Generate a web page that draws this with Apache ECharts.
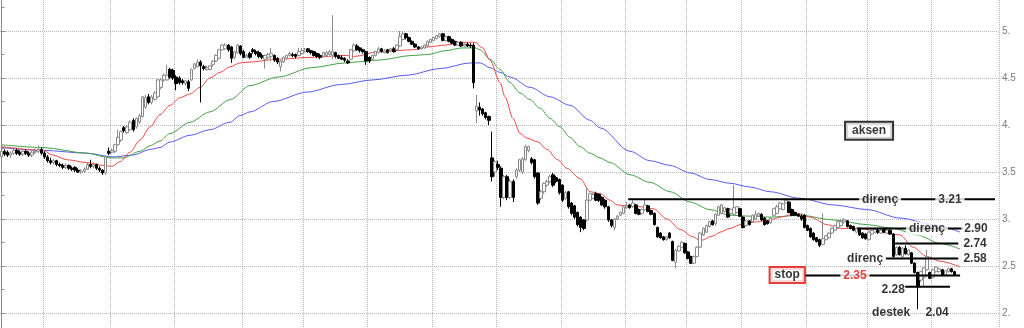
<!DOCTYPE html>
<html><head><meta charset="utf-8">
<script src="https://cdn.jsdelivr.net/npm/echarts@6/dist/echarts.min.js"></script>
<style>html,body{margin:0;padding:0;background:#fff}#c{width:1024px;height:328px}</style>
</head><body><div id="c"></div>
<script>
// [open, close, low, high]
const candles = [
[3.66,3.72,3.63,3.74],[3.72,3.69,3.67,3.74],[3.71,3.68,3.66,3.73],[3.68,3.70,3.65,3.72],[3.70,3.73,3.68,3.75],
[3.73,3.70,3.68,3.75],[3.71,3.69,3.67,3.73],[3.69,3.72,3.67,3.74],[3.72,3.70,3.68,3.74],[3.70,3.68,3.66,3.72],
[3.68,3.71,3.66,3.73],[3.71,3.72,3.69,3.75],[3.72,3.74,3.70,3.78],[3.74,3.70,3.68,3.76],[3.70,3.66,3.64,3.72],
[3.66,3.62,3.60,3.68],[3.62,3.60,3.58,3.65],[3.60,3.62,3.58,3.64],[3.62,3.58,3.56,3.63],[3.58,3.57,3.55,3.60],
[3.57,3.55,3.53,3.59],[3.55,3.57,3.53,3.59],[3.57,3.54,3.52,3.58],[3.54,3.53,3.51,3.56],[3.55,3.52,3.50,3.56],
[3.52,3.50,3.49,3.54],[3.50,3.51,3.48,3.53],[3.51,3.53,3.49,3.55],[3.53,3.58,3.52,3.60],[3.58,3.56,3.54,3.63],
[3.56,3.58,3.54,3.60],[3.58,3.54,3.52,3.59],[3.54,3.52,3.50,3.56],[3.52,3.49,3.47,3.53],[3.49,3.66,3.47,3.67],
[3.72,3.70,3.68,3.76],[3.71,3.73,3.70,3.75],[3.72,3.79,3.70,3.80],[3.79,3.87,3.78,3.95],[3.84,3.93,3.82,3.94],
[3.97,3.94,3.92,3.99],[3.92,3.98,3.90,4.00],[3.95,4.03,3.94,4.05],[4.05,3.95,3.93,4.07],[3.98,4.07,3.96,4.08],
[4.03,4.10,4.01,4.12],[4.09,4.30,4.08,4.31],[4.19,4.29,4.17,4.32],[4.30,4.24,4.22,4.33],[4.24,4.30,4.22,4.32],
[4.27,4.34,4.26,4.36],[4.30,4.48,4.29,4.49],[4.40,4.48,4.38,4.50],[4.48,4.53,4.46,4.55],[4.48,4.53,4.47,4.64],
[4.59,4.51,4.49,4.61],[4.58,4.50,4.48,4.60],[4.51,4.44,4.37,4.53],[4.50,4.45,4.43,4.52],[4.47,4.45,4.43,4.49],
[4.44,4.47,4.42,4.48],[4.46,4.39,4.36,4.48],[4.48,4.59,4.47,4.60],[4.60,4.65,4.59,4.66],[4.62,4.67,4.61,4.70],
[4.67,4.63,4.24,4.69],[4.62,4.60,4.58,4.64],[4.59,4.61,4.58,4.63],[4.59,4.63,4.58,4.64],[4.64,4.68,4.62,4.69],
[4.68,4.74,4.67,4.75],[4.71,4.80,4.70,4.81],[4.80,4.85,4.79,4.86],[4.81,4.85,4.80,4.87],[4.85,4.80,4.78,4.86],
[4.83,4.71,4.66,4.84],[4.72,4.78,4.70,4.79],[4.77,4.85,4.76,4.86],[4.84,4.76,4.74,4.85],[4.78,4.72,4.71,4.80],
[4.72,4.74,4.71,4.76],[4.76,4.72,4.70,4.78],[4.80,4.78,4.76,4.82],[4.78,4.76,4.74,4.80],[4.77,4.73,4.71,4.79],
[4.74,4.72,4.70,4.76],[4.70,4.74,4.60,4.75],[4.72,4.75,4.70,4.77],[4.73,4.76,4.68,4.82],[4.74,4.69,4.67,4.75],
[4.71,4.67,4.65,4.72],[4.62,4.68,4.57,4.69],[4.67,4.72,4.66,4.73],[4.71,4.74,4.70,4.75],[4.74,4.76,4.73,4.78],
[4.75,4.74,4.72,4.77],[4.75,4.73,4.71,4.76],[4.74,4.78,4.73,4.82],[4.76,4.79,4.75,4.82],[4.78,4.80,4.77,4.82],
[4.81,4.78,4.77,4.82],[4.79,4.77,4.75,4.80],[4.78,4.74,4.73,4.79],[4.76,4.73,4.71,4.77],[4.74,4.72,4.70,4.76],
[4.73,4.77,4.72,4.78],[4.74,4.77,4.73,4.79],[4.75,4.78,4.74,4.80],[4.74,4.78,4.70,5.17],[4.77,4.73,4.71,4.78],
[4.74,4.71,4.70,4.75],[4.72,4.70,4.69,4.74],[4.71,4.69,4.67,4.72],[4.68,4.66,4.65,4.70],[4.70,4.80,4.69,4.81],
[4.79,4.85,4.78,4.87],[4.84,4.80,4.79,4.86],[4.82,4.79,4.77,4.83],[4.80,4.78,4.76,4.81],[4.78,4.68,4.64,4.79],
[4.72,4.68,4.66,4.73],[4.70,4.74,4.69,4.75],[4.74,4.78,4.73,4.79],[4.77,4.81,4.76,4.83],[4.81,4.78,4.77,4.82],
[4.77,4.79,4.76,4.81],[4.80,4.77,4.76,4.81],[4.79,4.81,4.78,4.82],[4.81,4.78,4.77,4.83],[4.80,4.85,4.79,4.86],
[4.84,4.94,4.83,5.00],[4.91,4.97,4.90,5.00],[4.97,4.93,4.91,4.98],[4.93,4.89,4.88,4.94],[4.89,4.86,4.85,4.90],
[4.86,4.83,4.82,4.87],[4.83,4.81,4.80,4.84],[4.81,4.83,4.80,4.84],[4.82,4.85,4.81,4.86],[4.84,4.89,4.83,4.90],
[4.88,4.91,4.87,4.92],[4.90,4.93,4.89,4.94],[4.92,4.95,4.91,4.96],[4.94,4.97,4.93,4.98],[4.97,4.90,4.89,4.98],
[4.90,4.94,4.89,4.95],[4.94,4.89,4.88,4.95],[4.91,4.87,4.86,4.92],[4.89,4.85,4.84,4.90],[4.85,4.88,4.84,4.89],
[4.88,4.84,4.83,4.89],[4.84,4.86,4.83,4.87],[4.86,4.84,4.83,4.88],[4.85,4.84,4.82,4.87],[4.85,4.45,4.39,4.87],
[4.15,4.20,4.02,4.32],[4.19,4.16,4.10,4.24],[4.17,4.12,4.10,4.18],[4.13,4.08,4.06,4.14],[4.09,4.05,4.00,4.10],
[3.65,3.45,3.40,3.93],[3.50,3.61,3.45,3.63],[3.58,3.55,3.52,3.62],[3.54,3.23,3.13,3.56],[3.23,3.45,3.21,3.47],
[3.45,3.23,3.20,3.47],[3.23,3.40,3.21,3.43],[3.40,3.23,3.18,3.42],[3.45,3.52,3.43,3.54],[3.52,3.63,3.50,3.64],
[3.50,3.64,3.48,3.66],[3.63,3.77,3.62,3.79],[3.73,3.77,3.71,3.78],[3.64,3.60,3.58,3.66],[3.63,3.45,3.43,3.64],
[3.49,3.17,3.15,3.50],[3.22,3.29,3.20,3.31],[3.29,3.38,3.27,3.39],[3.36,3.40,3.34,3.42],[3.40,3.45,3.38,3.47],
[3.47,3.36,3.34,3.49],[3.44,3.40,3.38,3.46],[3.42,3.28,3.26,3.43],[3.36,3.20,3.18,3.37],[3.22,3.28,3.20,3.30],
[3.29,3.13,3.11,3.30],[3.17,3.06,3.04,3.18],[3.14,3.02,3.00,3.15],[3.07,2.94,2.92,3.08],[3.02,2.91,2.86,3.03],
[2.99,2.90,2.88,3.00],[2.99,3.20,2.97,3.34],[3.20,3.27,3.19,3.28],[3.22,3.26,3.21,3.28],[3.27,3.20,3.19,3.29],
[3.26,3.20,3.18,3.27],[3.23,3.15,3.14,3.24],[3.20,3.13,3.11,3.21],[3.13,2.99,2.97,3.14],[2.99,2.93,2.91,3.00],
[2.91,3.00,2.88,3.01],[3.00,3.03,2.99,3.04],[3.04,3.07,3.03,3.08],[3.06,3.13,3.05,3.14],[3.12,3.14,3.11,3.18],
[3.15,3.12,3.11,3.16],[3.13,3.17,3.12,3.20],[3.15,3.06,3.05,3.16],[3.10,3.05,3.04,3.11],[3.06,3.10,3.05,3.11],
[3.10,3.15,3.09,3.21],[3.14,3.08,3.07,3.15],[3.09,3.05,3.04,3.10],[3.06,2.94,2.93,3.07],[2.91,2.81,2.80,2.92],
[2.85,2.80,2.79,2.86],[2.81,2.78,2.77,2.82],[2.78,2.81,2.77,2.82],[2.85,2.80,2.79,2.86],[2.76,2.56,2.55,2.77],
[2.54,2.67,2.48,2.68],[2.66,2.71,2.65,2.72],[2.70,2.75,2.69,2.77],[2.74,2.64,2.63,2.75],[2.65,2.58,2.57,2.66],
[2.60,2.53,2.52,2.61],[2.53,2.60,2.52,2.61],[2.60,2.70,2.59,2.71],[2.70,2.85,2.69,2.86],[2.83,2.90,2.82,2.91],
[2.86,2.93,2.85,2.94],[2.92,2.97,2.91,2.98],[2.98,2.94,2.93,2.99],[2.95,3.05,2.93,3.06],[3.04,3.13,3.03,3.14],
[3.06,3.15,3.05,3.16],[3.08,3.12,3.07,3.13],[3.11,3.02,3.01,3.12],[3.06,3.10,3.05,3.11],[3.05,3.12,3.04,3.36],
[3.07,3.13,3.06,3.14],[3.11,3.03,3.02,3.12],[3.02,2.91,2.90,3.03],[2.93,2.98,2.92,2.99],[2.98,2.94,2.93,2.99],
[2.97,3.04,2.96,3.05],[3.00,3.05,2.99,3.09],[3.03,3.06,3.02,3.07],[3.05,2.99,2.98,3.06],[3.01,2.94,2.93,3.02],
[2.98,2.95,2.94,2.99],[2.96,3.01,2.95,3.02],[3.04,3.11,3.03,3.12],[3.06,3.13,3.05,3.15],[3.11,3.17,3.10,3.18],
[3.10,3.16,3.09,3.17],[3.17,3.20,3.16,3.22],[3.18,3.07,3.06,3.19],[3.10,3.04,3.03,3.11],[3.07,3.04,3.03,3.08],
[3.05,3.03,3.02,3.06],[3.03,3.00,2.98,3.05],[3.04,2.91,2.90,3.05],[2.93,2.88,2.87,2.94],[2.90,2.81,2.80,2.91],
[2.85,2.78,2.77,2.86],[2.80,2.76,2.75,2.81],[2.78,2.72,2.70,2.79],[2.73,2.79,2.72,3.06],[2.78,2.82,2.77,2.83],
[2.80,2.85,2.79,2.86],[2.85,2.90,2.84,2.91],[2.88,2.93,2.87,2.94],[2.91,2.97,2.90,2.98],[2.93,2.97,2.92,3.00],
[2.97,2.99,2.95,3.01],[2.98,2.92,2.91,2.99],[2.93,2.90,2.89,2.94],[2.92,2.88,2.87,2.93],[2.86,2.90,2.85,2.91],
[2.90,2.83,2.82,2.91],[2.85,2.80,2.79,2.86],[2.84,2.79,2.78,2.85],[2.78,2.86,2.77,2.87],[2.84,2.88,2.83,2.89],
[2.86,2.89,2.85,2.90],[2.88,2.86,2.84,2.90],[2.85,2.88,2.84,2.89],[2.89,2.86,2.85,2.90],[2.85,2.88,2.84,2.89],
[2.88,2.84,2.83,2.89],[2.84,2.60,2.59,2.85],[2.62,2.70,2.61,2.71],[2.70,2.62,2.61,2.71],[2.60,2.69,2.59,2.70],
[2.69,2.63,2.62,2.72],[2.62,2.67,2.61,2.68],[2.64,2.53,2.52,2.65],[2.53,2.43,2.42,2.54],[2.43,2.28,2.04,2.44],
[2.35,2.44,2.33,2.45],[2.38,2.48,2.28,2.49],[2.46,2.60,2.45,2.67],[2.43,2.37,2.36,2.44],[2.38,2.46,2.37,2.47],
[2.44,2.49,2.43,2.50],[2.44,2.47,2.43,2.48],[2.46,2.40,2.39,2.47],[2.40,2.45,2.39,2.46],[2.44,2.47,2.43,2.48],
[2.47,2.44,2.43,2.48],[2.44,2.41,2.40,2.45]
];
const slotCount = 326;
const maRed = [[0,3.77],[13.5,3.73],[16.8,3.68],[21.4,3.63],[27.9,3.60],[33.1,3.57],[36,3.56],[38.7,3.61],[41.9,3.71],[45.2,3.84],[48.5,3.98],[51.7,4.11],[55,4.21],[58.2,4.29],[61.5,4.33],[64.8,4.40],[68,4.50],[71.3,4.56],[74.6,4.62],[77.8,4.66],[81.1,4.67],[90.2,4.70],[101.3,4.72],[112.1,4.74],[115.4,4.73],[122.9,4.78],[134,4.80],[139.2,4.83],[144.7,4.85],[150.3,4.88],[154.5,4.88],[157,4.82],[159.4,4.69],[162.7,4.45],[164.3,4.30],[166.9,4.07],[169.2,3.91],[171.5,3.86],[175,3.82],[178,3.74],[181.5,3.63],[184.5,3.54],[188.8,3.43],[192.1,3.29],[195.3,3.27],[198.6,3.20],[200.9,3.15],[204.1,3.14],[208.4,3.13],[212.6,3.11],[217.2,3.00],[221.4,2.89],[225.7,2.81],[228,2.77],[232.2,2.82],[234.5,2.86],[237.7,2.90],[242,2.95],[246.6,2.97],[250.8,2.99],[254.1,3.02],[259.6,3.06],[263.9,3.02],[269.4,2.94],[273.6,2.90],[280.2,2.90],[286.7,2.86],[293.2,2.83],[297.5,2.70],[302,2.60],[306.3,2.55],[312.8,2.49]];
const maGreen = [[0,3.79],[13.5,3.76],[27.9,3.70],[35.4,3.65],[39.6,3.65],[45.2,3.72],[48.5,3.78],[51.7,3.83],[55,3.91],[61.5,4.03],[68,4.14],[74.6,4.27],[81.1,4.42],[90.2,4.51],[101.3,4.61],[112.1,4.66],[115.4,4.67],[122.9,4.69],[134,4.74],[139.2,4.75],[144.7,4.79],[150.3,4.82],[154.5,4.82],[156.2,4.80],[159.4,4.70],[162.7,4.59],[166,4.45],[169.2,4.34],[172.5,4.27],[175.7,4.18],[179,4.07],[182.3,3.98],[185.5,3.87],[188.8,3.77],[192.1,3.70],[195.3,3.65],[198.6,3.60],[205.1,3.47],[211.6,3.39],[218.2,3.29],[224.7,3.18],[231.2,3.10],[237.7,3.04],[244.3,3.03],[250.8,3.02],[260.6,3.04],[271.4,2.99],[282.5,2.94],[291,2.90],[298.8,2.83],[306.3,2.74],[312.8,2.68]];
const maBlue = [[0,3.76],[13.5,3.73],[27.9,3.70],[36.4,3.66],[42.9,3.68],[48.5,3.74],[51.7,3.76],[55,3.82],[61.5,3.89],[68,3.95],[74.6,4.03],[77.8,4.10],[81.1,4.14],[88.6,4.25],[99.7,4.35],[110.5,4.43],[121.2,4.48],[132.3,4.53],[143.1,4.60],[152.9,4.66],[156.2,4.66],[159.4,4.61],[162.7,4.56],[166,4.51],[172.5,4.40],[179,4.30],[185.5,4.21],[192.1,4.05],[195.3,3.97],[205.1,3.72],[211.6,3.62],[218.2,3.57],[224.7,3.49],[231.2,3.42],[237.7,3.38],[244.3,3.34],[250.8,3.29],[260.6,3.22],[271.4,3.15],[282.5,3.10],[293.2,3.01],[304,2.94],[312.8,2.86]];
const monthStarts = [14,36,57,79,99,120,141,162,183,204,224,242,263,283,304];
const levelValues = [3.21,2.90,2.74,2.58,2.40,2.28];
const levelFrom = [204.5,279.2,291.6,288.3,262.2,294.9];
const levelTo = [324.2,313.8,312.2,312.2,312.8,309.5];
const noteTexts = ['direnç','3.21','direnç','2.90','2.74','direnç','2.58','stop','2.35','2.28','destek','2.04','aksen'];
const noteX = [286.7,309.5,302,318,317.7,281.8,317.7,256.4,278.5,291,290.3,305.3,283.1];
const noteY = [3.21,3.21,2.90,2.90,2.74,2.58,2.58,2.405,2.40,2.245,2.0,2.0,3.94];
const yLabels = {2:'2.',2.5:'2.5',3:'3.',3.5:'3.5',4:'4.',4.5:'4.5',5:'5.'};

const categories = candles.map((c,i)=>String(i+1));
while (categories.length < slotCount) categories.push('');

const chart = echarts.init(document.getElementById('c'), null, {renderer:'canvas'});
const font = '"Liberation Sans", Arial, sans-serif';
const series = [];
series.push({type:'line', xAxisIndex:1, data:maBlue, showSymbol:false, smooth:0.3, smoothMonotone:'x', lineStyle:{color:'#5a5af0',width:1}, z:1, silent:true});
series.push({type:'line', xAxisIndex:1, data:maGreen, showSymbol:false, smooth:0.3, smoothMonotone:'x', lineStyle:{color:'#44a044',width:1}, z:1, silent:true});
series.push({type:'line', xAxisIndex:1, data:maRed, showSymbol:false, smooth:0.3, smoothMonotone:'x', lineStyle:{color:'#f04848',width:1}, z:1, silent:true});
series.push({type:'candlestick', xAxisIndex:0, data:candles, barWidth:3, z:2,
  itemStyle:{color:'#ffffff', color0:'#000000', borderColor:'#8a8a8a', borderColor0:'#000000', borderWidth:1}});
levelValues.forEach((v,k)=>{
  series.push({type:'line', xAxisIndex:1, data:[[levelFrom[k],v],[levelTo[k],v]], showSymbol:false, lineStyle:{color:'#000',width:2}, z:3, silent:true});
});
const notes = noteTexts.map((t,k)=>{
  const lab = {show:true, position:'inside', formatter:t, color:'#000', fontFamily:font, fontWeight:'bold', fontSize:12, backgroundColor:'#fff', padding:[1,3]};
  if (t==='stop') Object.assign(lab,{borderColor:'#e01010', borderWidth:2, padding:[1,4]});
  if (t==='aksen') Object.assign(lab,{borderColor:'#000', borderWidth:2, padding:[2,6]});
  if (k===8) lab.color = '#e01010';
  if (t==='destek' || t==='2.04' || t==='2.28') lab.backgroundColor = 'transparent';
  return {value:[noteX[k], noteY[k]], label:lab};
});
series.push({type:'scatter', xAxisIndex:1, data:notes, symbolSize:0, z:5, silent:true});

chart.setOption({
  animation:false,
  backgroundColor:'#fff',
  grid:{left:0, right:25, top:-16, bottom:-32, containLabel:false, outerBoundsMode:'none'},
  xAxis:[
    {type:'category', data:categories, boundaryGap:true, axisLine:{show:false}, axisTick:{show:false}, axisLabel:{show:false},
     splitLine:{show:true, interval:(i)=>monthStarts.indexOf(i)>=0, lineStyle:{color:'#b4b4b4', type:'dotted', width:1}}},
    {type:'value', min:-0.5, max:slotCount-0.5, show:false}
  ],
  yAxis:{type:'value', position:'right', min:1.5, max:5.5, interval:0.5, scale:false,
    axisLine:{show:true, lineStyle:{color:'#8c8c8c'}},
    axisTick:{show:true, length:4, lineStyle:{color:'#8c8c8c'}},
    minorTick:{show:true, splitNumber:2, length:3, lineStyle:{color:'#8c8c8c'}},
    axisLabel:{color:'#7a7a7a', fontSize:10, fontFamily:font, margin:3, formatter:(v)=>yLabels[v]!==undefined?yLabels[v]:''},
    splitLine:{show:true, lineStyle:{color:'#b4b4b4', type:'dotted', width:1}}},
  series:series
});
</script></body></html>
